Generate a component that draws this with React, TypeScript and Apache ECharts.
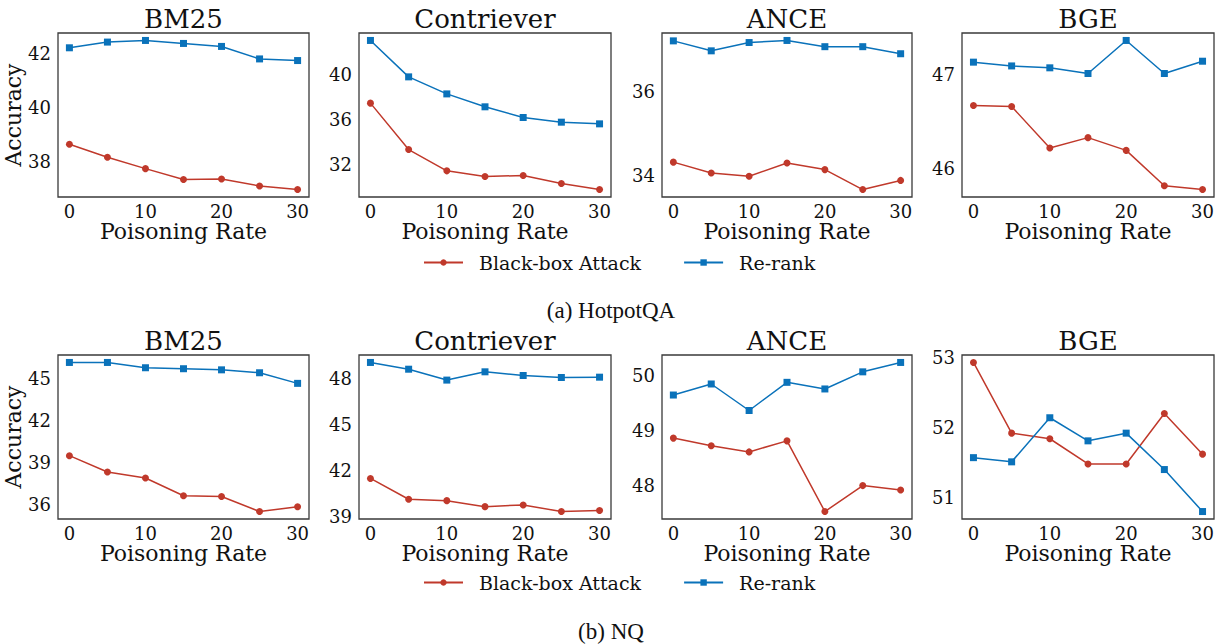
import React, { useEffect, useRef } from "react";
import * as echarts from "echarts";

const rates = [0, 5, 10, 15, 20, 25, 30];
const xTicks = [0, 10, 20, 30];
const retrievers = ["BM25", "Contriever", "ANCE", "BGE"];
const seriesNames = ["Black-box Attack", "Re-rank"];
const captions = ["(a) HotpotQA", "(b) NQ"];

// HotpotQA
const hotpotBM25Attack = [38.65, 38.17, 37.75, 37.35, 37.37, 37.11, 36.98];
const hotpotBM25Rerank = [42.2, 42.41, 42.47, 42.36, 42.25, 41.79, 41.73];
const hotpotContrieverAttack = [37.47, 33.3, 31.39, 30.88, 30.97, 30.25, 29.71];
const hotpotContrieverRerank = [43.1, 39.83, 38.3, 37.14, 36.18, 35.76, 35.61];
const hotpotANCEAttack = [34.31, 34.05, 33.97, 34.29, 34.13, 33.65, 33.87];
const hotpotANCERerank = [37.23, 36.99, 37.19, 37.24, 37.09, 37.09, 36.92];
const hotpotBGEAttack = [46.67, 46.66, 46.22, 46.33, 46.195, 45.82, 45.78];
const hotpotBGERerank = [47.13, 47.09, 47.07, 47.01, 47.36, 47.01, 47.14];

// NQ
const nqBM25Attack = [39.48, 38.31, 37.88, 36.6, 36.55, 35.47, 35.81];
const nqBM25Rerank = [46.17, 46.17, 45.79, 45.72, 45.64, 45.43, 44.67];
const nqContrieverAttack = [41.46, 40.1, 40.01, 39.62, 39.73, 39.3, 39.37];
const nqContrieverRerank = [49.02, 48.58, 47.87, 48.41, 48.17, 48.04, 48.06];
const nqANCEAttack = [48.86, 48.72, 48.61, 48.81, 47.53, 48.0, 47.92];
const nqANCERerank = [49.64, 49.84, 49.36, 49.87, 49.75, 50.06, 50.23];
const nqBGEAttack = [52.93, 51.92, 51.84, 51.48, 51.48, 52.2, 51.62];
const nqBGERerank = [51.57, 51.51, 52.14, 51.81, 51.92, 51.4, 50.8];

// y tick labels
const hotpotYTicks = [[38, 40, 42], [32, 36, 40], [34, 36], [46, 47]];
const nqYTicks = [[36, 39, 42, 45], [39, 42, 45, 48], [48, 49, 50], [51, 52, 53]];

const attackRows = [
  [hotpotBM25Attack, hotpotContrieverAttack, hotpotANCEAttack, hotpotBGEAttack],
  [nqBM25Attack, nqContrieverAttack, nqANCEAttack, nqBGEAttack],
];
const rerankRows = [
  [hotpotBM25Rerank, hotpotContrieverRerank, hotpotANCERerank, hotpotBGERerank],
  [nqBM25Rerank, nqContrieverRerank, nqANCERerank, nqBGERerank],
];
const yTickRows = [hotpotYTicks, nqYTicks];

const RED = "#c0392b";
const BLUE = "#0a72ba";
const SERIF = "DejaVu Serif";

const colLeft = [58, 359, 662, 962];
const colWidth = [251, 252, 250, 252];
const rowTop = [33, 355];
const plotH = 164;
const legendTop = [248, 568];
const captionY = [310, 631];

function buildOption() {
  const grid: any[] = [];
  const xAxis: any[] = [];
  const yAxis: any[] = [];
  const series: any[] = [];
  const graphic: any[] = [];
  const legend: any[] = [];
  let idx = 0;
  for (let r = 0; r < 2; r++) {
    for (let c = 0; c < 4; c++) {
      const a = attackRows[r][c];
      const b = rerankRows[r][c];
      const all = a.concat(b);
      const lo = Math.min(...all);
      const hi = Math.max(...all);
      const m = (hi - lo) * 0.05;
      grid.push({
        left: colLeft[c],
        top: rowTop[r],
        width: colWidth[c],
        height: plotH,
        show: true,
        borderColor: "#3a3a3a",
        borderWidth: 1.3,
        backgroundColor: "transparent",
      });
      xAxis.push({
        type: "value",
        gridIndex: idx,
        min: -1.5,
        max: 31.5,
        axisLine: { show: false },
        axisTick: { show: false },
        splitLine: { show: false },
        axisLabel: {
          customValues: xTicks,
          color: "#111",
          fontFamily: SERIF,
          fontSize: 18,
          margin: 5,
        },
        name: "Poisoning Rate",
        nameLocation: "middle",
        nameGap: 22,
        nameTextStyle: { color: "#111", fontFamily: SERIF, fontSize: 22, lineHeight: 22 },
      });
      yAxis.push({
        type: "value",
        gridIndex: idx,
        min: lo - m,
        max: hi + m,
        axisLine: { show: false },
        axisTick: { show: false },
        splitLine: { show: false },
        axisLabel: {
          customValues: yTickRows[r][c],
          color: "#111",
          fontFamily: SERIF,
          fontSize: 18,
          margin: 7,
        },
        name: c === 0 ? "Accuracy" : "",
        nameLocation: "middle",
        nameGap: 30,
        nameTextStyle: { color: "#111", fontFamily: SERIF, fontSize: 22 },
      });
      series.push({
        type: "line",
        name: seriesNames[0],
        xAxisIndex: idx,
        yAxisIndex: idx,
        data: rates.map((x, i) => [x, a[i]]),
        symbol: "circle",
        symbolSize: 7,
        lineStyle: { color: RED, width: 1.5 },
        itemStyle: { color: RED },
        z: 3,
      });
      series.push({
        type: "line",
        name: seriesNames[1],
        xAxisIndex: idx,
        yAxisIndex: idx,
        data: rates.map((x, i) => [x, b[i]]),
        symbol: "rect",
        symbolSize: 7,
        lineStyle: { color: BLUE, width: 1.5 },
        itemStyle: { color: BLUE },
        z: 4,
      });
      graphic.push({
        type: "text",
        x: colLeft[c] + colWidth[c] / 2,
        y: rowTop[r] - 14,
        style: {
          text: retrievers[c],
          fill: "#111",
          font: `26px "${SERIF}"`,
          textAlign: "center",
          textVerticalAlign: "middle",
        },
      });
      idx++;
    }
    graphic.push({
      type: "text",
      x: 611,
      y: captionY[r],
      style: {
        text: captions[r],
        fill: "#111",
        font: `23px "Liberation Serif"`,
        textAlign: "center",
        textVerticalAlign: "middle",
      },
    });
    legend.push({
      data: seriesNames,
      top: legendTop[r],
      left: 418,
      itemWidth: 39,
      itemHeight: 8,
      itemGap: 42,
      textStyle: {
        color: "#111",
        fontFamily: SERIF,
        fontSize: 19,
        padding: [0, 0, 0, 11],
      },
      selectedMode: false,
    });
  }
  return {
    animation: false,
    backgroundColor: "#fff",
    grid,
    xAxis,
    yAxis,
    series,
    graphic,
    legend,
  };
}

export default function App() {
  const ref = useRef<HTMLDivElement>(null);
  useEffect(() => {
    if (!ref.current) return;
    const chart = echarts.init(ref.current, undefined, { renderer: "svg" });
    chart.setOption(buildOption() as any);
    return () => chart.dispose();
  }, []);
  return (
    <div
      ref={ref}
      style={{ position: "fixed", left: 0, top: 0, width: 1220, height: 644 }}
    />
  );
}
